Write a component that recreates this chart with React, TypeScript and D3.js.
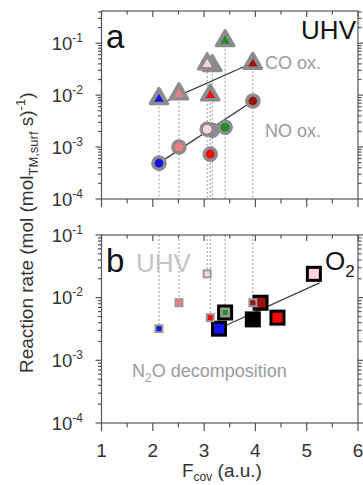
import React from "react";
import * as d3 from "d3";

const W = 363;
const H = 485;
const FONT = "'Liberation Sans', Arial, Helvetica, sans-serif";

// Catalysts, shared between both panels (UHV measurements)
const catalysts = ["blue", "coral", "light pink", "red", "green", "dark red"];
const catalystColors = ["#1414e6", "#f08080", "#ffd3da", "#f50a0a", "#1e8c28", "#9b1212"];
const fcovUHV = [2.12, 2.51, 3.06, 3.12, 3.41, 3.95];
const coOxRate = [0.0086, 0.0106, 0.04, 0.0101, 0.112, 0.041];
const noOxRate = [0.00049, 0.001, 0.0022, 0.00073, 0.0024, 0.0077];
const n2oUhvRate = [0.0032, 0.0083, 0.024, 0.0048, 0.0058, 0.0083];

// grey duplicate markers sitting behind the light-pink ones
const ghostFcov = [3.16];
const ghostCoRate = [0.037];
const ghostNoRate = [0.0021];

// N2O decomposition in O2
const o2Fcov = [3.29, 3.41, 3.95, 4.1, 4.43, 5.14];
const o2Rate = [0.0032, 0.0058, 0.0045, 0.0083, 0.0048, 0.024];
const o2Colors = ["#1414e6", "#8aa08a", "#000000", "#a01010", "#f50a0a", "#ffd3da"];

// exponential fits (straight on the log axis)
const coFitX = [2.2, 3.95];
const coFitY = [0.0072, 0.042];
const noFitX = [2.12, 3.95];
const noFitY = [0.00049, 0.0077];
const o2FitX = [3.42, 5.25];
const o2FitY = [0.0036, 0.0172];

const xTicks = [1, 2, 3, 4, 5, 6];
const xMinorTicks = [1.5, 2.5, 3.5, 4.5, 5.5];
const decadeExps = [-4, -3, -2, -1];

const AXIS = "#555";
const GREY_TEXT = "#9a9a9a";

const x = d3.scaleLinear().domain([1, 6]).range([101.5, 358]);
const yA = d3.scaleLog().domain([1e-4, Math.pow(10, -0.38)]).range([199, 11]);
const yB = d3.scaleLog().domain([1e-4, 1e-1]).range([423, 235]);

const fitPath = (xs: number[], ys: number[], y: d3.ScaleLogarithmic<number, number>) =>
  d3.line<number>().x((d) => x(xs[d])).y((d) => y(ys[d]))(xs.map((_, i) => i)) || "";

const triOuter = d3.symbol(d3.symbolTriangle, 135)() || "";
const triInner = d3.symbol(d3.symbolTriangle, 38)() || "";

function Frame({ y }: { y: d3.ScaleLogarithmic<number, number> }) {
  const [bottom, top] = y.range();
  const [d0, d1] = y.domain();
  const minor: number[] = [];
  for (let e = -4; e <= 0; e++) {
    for (let m = 2; m <= 9; m++) {
      const v = m * Math.pow(10, e);
      if (v > d0 && v <= d1) minor.push(v);
    }
  }
  const left = x.range()[0];
  const right = x.range()[1];
  return (
    <g stroke={AXIS} strokeWidth={1.2} fill="none">
      <rect x={left} y={top} width={right - left} height={bottom - top} />
      {decadeExps.map((e) => (
        <g key={e}>
          <line x1={left - 6} x2={left} y1={y(Math.pow(10, e))} y2={y(Math.pow(10, e))} />
          <line x1={right} x2={right + 6} y1={y(Math.pow(10, e))} y2={y(Math.pow(10, e))} />
        </g>
      ))}
      {minor.map((v, i) => (
        <g key={i}>
          <line x1={left - 3.5} x2={left} y1={y(v)} y2={y(v)} />
          <line x1={right} x2={right + 3.5} y1={y(v)} y2={y(v)} />
        </g>
      ))}
      {xTicks.map((t) => (
        <g key={t}>
          <line x1={x(t)} x2={x(t)} y1={bottom} y2={bottom + 8} />
          <line x1={x(t)} x2={x(t)} y1={top} y2={top + 6} />
        </g>
      ))}
      {xMinorTicks.map((t) => (
        <g key={t}>
          <line x1={x(t)} x2={x(t)} y1={bottom} y2={bottom + 4.5} />
          <line x1={x(t)} x2={x(t)} y1={top} y2={top + 3.5} />
        </g>
      ))}
    </g>
  );
}

function DecadeLabels({ y }: { y: d3.ScaleLogarithmic<number, number> }) {
  return (
    <g fontFamily={FONT} fill="#333">
      {decadeExps.map((e) => (
        <text key={e} x={83} y={y(Math.pow(10, e)) + 6.5} textAnchor="end" fontSize={18.5}>
          10
          <tspan dy={-8} fontSize={12}>
            {String(e)}
          </tspan>
        </text>
      ))}
    </g>
  );
}

export default function App() {
  const bottomA = yA.range()[0];
  const topB = yB.range()[1];
  return (
    <svg width={W} height={H} style={{ position: "absolute", left: 0, top: 0, background: "#fff" }}>
      <rect width={W} height={H} fill="#fff" />

      {/* ---------- panel a: CO and NO oxidation in UHV ---------- */}
      <g stroke="#9a9a9a" strokeWidth={1} strokeDasharray="2,2">
        {fcovUHV.map((f, i) => (
          <line key={i} x1={x(f)} x2={x(f)} y1={yA(coOxRate[i])} y2={bottomA} />
        ))}
        {ghostFcov.map((f, i) => (
          <line key={"g" + i} x1={x(f)} x2={x(f)} y1={yA(ghostCoRate[i])} y2={bottomA} />
        ))}
      </g>
      <path d={fitPath(coFitX, coFitY, yA)} stroke="#3c3c3c" strokeWidth={1.3} fill="none" />
      <path d={fitPath(noFitX, noFitY, yA)} stroke="#3c3c3c" strokeWidth={1.3} fill="none" />

      {ghostFcov.map((f, i) => (
        <g key={"gt" + i}>
          <path d={triOuter} transform={`translate(${x(f)},${yA(ghostCoRate[i])})`} fill="#8c8c8c" stroke="#8c8c8c" strokeWidth={3} strokeLinejoin="round" />
          <circle cx={x(f)} cy={yA(ghostNoRate[i])} r={7.8} fill="#8c8c8c" />
        </g>
      ))}
      {catalysts.map((c, i) => (
        <g key={c}>
          <path d={triOuter} transform={`translate(${x(fcovUHV[i])},${yA(coOxRate[i])})`} fill="#8c8c8c" stroke="#8c8c8c" strokeWidth={3} strokeLinejoin="round" />
          <path d={triInner} transform={`translate(${x(fcovUHV[i])},${yA(coOxRate[i]) + 0.5})`} fill={catalystColors[i]} />
          <circle cx={x(fcovUHV[i])} cy={yA(noOxRate[i])} r={7.8} fill="#8c8c8c" />
          <circle cx={x(fcovUHV[i])} cy={yA(noOxRate[i])} r={4.3} fill={catalystColors[i]} />
        </g>
      ))}

      <Frame y={yA} />
      <DecadeLabels y={yA} />

      <g fontFamily={FONT}>
        <text x={106} y={48} fontSize={33} fill="#111">a</text>
        <text x={356} y={39} fontSize={26} fill="#111" textAnchor="end">UHV</text>
        <text x={265} y={69} fontSize={18} fill={GREY_TEXT}>CO ox.</text>
        <text x={265} y={137} fontSize={18} fill={GREY_TEXT}>NO ox.</text>
      </g>

      {/* ---------- panel b: N2O decomposition, UHV vs O2 ---------- */}
      <g stroke="#9a9a9a" strokeWidth={1} strokeDasharray="2,2">
        {fcovUHV.map((f, i) => (
          <line key={i} x1={x(f)} x2={x(f)} y1={topB} y2={yB(n2oUhvRate[i])} />
        ))}
      </g>
      <path d={fitPath(o2FitX, o2FitY, yB)} stroke="#3c3c3c" strokeWidth={1.3} fill="none" />

      {o2Fcov.map((f, i) => (
        <rect key={"o" + i} x={x(f) - 6.5} y={yB(o2Rate[i]) - 6.5} width={13} height={13} fill={o2Colors[i]} stroke="#000" strokeWidth={3} />
      ))}
      {catalysts.map((c, i) => (
        <g key={"u" + c}>
          <rect x={x(fcovUHV[i]) - 3.5} y={yB(n2oUhvRate[i]) - 3.5} width={7} height={7} fill={catalystColors[i]} stroke="#9a9a9a" strokeWidth={2} />
        </g>
      ))}

      <Frame y={yB} />
      <DecadeLabels y={yB} />

      <g fontFamily={FONT}>
        <text x={106} y={272} fontSize={33} fill="#111">b</text>
        <text x={136} y={272} fontSize={26} fill="#c4c4c4">UHV</text>
        <text x={325} y={270} fontSize={26} fill="#111">
          O<tspan dy={7} fontSize={17}>2</tspan>
        </text>
        <text x={132} y={377} fontSize={18} fill={GREY_TEXT}>
          N<tspan dy={5} fontSize={12}>2</tspan>
          <tspan dy={-5}>O decomposition</tspan>
        </text>
      </g>

      {/* x tick labels and axis titles */}
      <g fontFamily={FONT} fill="#333" fontSize={19}>
        {xTicks.map((t) => (
          <text key={t} x={x(t)} y={457} textAnchor="middle">
            {t}
          </text>
        ))}
      </g>
      <text x={182} y={477} fontFamily={FONT} fontSize={19} fill="#333">
        F<tspan dy={4} fontSize={12}>cov</tspan>
        <tspan dy={-4}> (a.u.)</tspan>
      </text>
      <text transform="translate(33,373) rotate(-90)" fontFamily={FONT} fontSize={19} fill="#333">
        Reaction rate (mol (mol<tspan dy={5} fontSize={13}>TM,surf</tspan>
        <tspan dy={-5}> s)</tspan>
        <tspan dy={-8} fontSize={13}>-1</tspan>
        <tspan dy={8}>)</tspan>
      </text>
    </svg>
  );
}
